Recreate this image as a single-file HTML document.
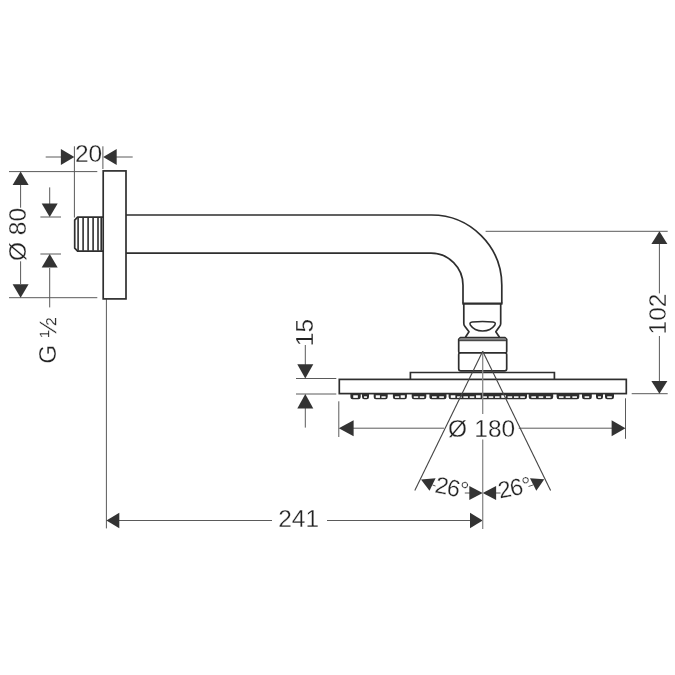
<!DOCTYPE html>
<html><head><meta charset="utf-8"><title>Drawing</title>
<style>
html,body{margin:0;padding:0;background:#fff;}
body{width:675px;height:675px;overflow:hidden;}
svg{display:block;font-family:"Liberation Sans",sans-serif;}
</style></head><body>
<svg width="675" height="675" viewBox="0 0 675 675">
<rect width="675" height="675" fill="#fff"/>
<defs><filter id="aa" filterUnits="userSpaceOnUse" x="0" y="0" width="675" height="675"><feOffset dx="0" dy="0"/></filter></defs>
<line x1="74.4" y1="146.3" x2="74.4" y2="217.5" stroke="#5a5a5a" stroke-width="1.0"/>
<line x1="102.9" y1="146.3" x2="102.9" y2="169" stroke="#5a5a5a" stroke-width="1.0"/>
<line x1="45.7" y1="157" x2="61" y2="157" stroke="#5a5a5a" stroke-width="1.0"/>
<line x1="116" y1="157" x2="132.7" y2="157" stroke="#5a5a5a" stroke-width="1.0"/>
<polygon points="74.40,157.00 60.90,165.00 60.90,149.00" fill="#333"/>
<polygon points="103.20,157.00 116.70,149.00 116.70,165.00" fill="#333"/>
<line x1="9" y1="171.6" x2="97.3" y2="171.6" stroke="#5a5a5a" stroke-width="1.0"/>
<line x1="9" y1="297.7" x2="97.3" y2="297.7" stroke="#5a5a5a" stroke-width="1.0"/>
<line x1="20.6" y1="185" x2="20.6" y2="207.7" stroke="#5a5a5a" stroke-width="1.0"/>
<line x1="20.6" y1="261.3" x2="20.6" y2="284" stroke="#5a5a5a" stroke-width="1.0"/>
<polygon points="20.60,171.60 28.60,185.10 12.60,185.10" fill="#333"/>
<polygon points="20.60,297.70 12.60,284.20 28.60,284.20" fill="#333"/>
<line x1="40.4" y1="217" x2="61" y2="217" stroke="#5a5a5a" stroke-width="1.0"/>
<line x1="40.4" y1="254" x2="61" y2="254" stroke="#5a5a5a" stroke-width="1.0"/>
<line x1="49.7" y1="187.4" x2="49.7" y2="204" stroke="#5a5a5a" stroke-width="1.0"/>
<line x1="49.7" y1="268" x2="49.7" y2="307.4" stroke="#5a5a5a" stroke-width="1.0"/>
<polygon points="49.70,217.00 41.70,203.50 57.70,203.50" fill="#333"/>
<polygon points="49.70,254.00 57.70,267.50 41.70,267.50" fill="#333"/>
<line x1="106.4" y1="299" x2="106.4" y2="528.4" stroke="#5a5a5a" stroke-width="1.0"/>
<line x1="119" y1="520.5" x2="272" y2="520.5" stroke="#5a5a5a" stroke-width="1.0"/>
<line x1="327" y1="520.5" x2="470" y2="520.5" stroke="#5a5a5a" stroke-width="1.0"/>
<polygon points="106.40,520.50 119.30,512.80 119.30,528.20" fill="#333"/>
<polygon points="482.70,520.50 470.00,528.20 470.00,512.80" fill="#333"/>
<line x1="296" y1="378.5" x2="336.3" y2="378.5" stroke="#5a5a5a" stroke-width="1.0"/>
<line x1="296" y1="394" x2="336.3" y2="394" stroke="#5a5a5a" stroke-width="1.0"/>
<line x1="305.3" y1="345" x2="305.3" y2="365" stroke="#5a5a5a" stroke-width="1.0"/>
<line x1="305.3" y1="408" x2="305.3" y2="427.6" stroke="#5a5a5a" stroke-width="1.0"/>
<polygon points="305.30,378.50 297.30,364.20 313.30,364.20" fill="#333"/>
<polygon points="305.30,394.00 313.30,408.60 297.30,408.60" fill="#333"/>
<line x1="485.6" y1="231.3" x2="667.7" y2="231.3" stroke="#5a5a5a" stroke-width="1.0"/>
<line x1="631.7" y1="393.7" x2="667.7" y2="393.7" stroke="#5a5a5a" stroke-width="1.0"/>
<line x1="659.4" y1="244" x2="659.4" y2="293.4" stroke="#5a5a5a" stroke-width="1.0"/>
<line x1="659.4" y1="336" x2="659.4" y2="381" stroke="#5a5a5a" stroke-width="1.0"/>
<polygon points="659.40,231.30 667.40,243.90 651.40,243.90" fill="#333"/>
<polygon points="659.40,393.70 651.40,381.10 667.40,381.10" fill="#333"/>
<line x1="338.8" y1="401.3" x2="338.8" y2="437" stroke="#5a5a5a" stroke-width="1.0"/>
<line x1="625.5" y1="398.3" x2="625.5" y2="438.8" stroke="#5a5a5a" stroke-width="1.0"/>
<line x1="353" y1="428.2" x2="444" y2="428.2" stroke="#5a5a5a" stroke-width="1.0"/>
<line x1="518.7" y1="428.2" x2="612" y2="428.2" stroke="#5a5a5a" stroke-width="1.0"/>
<polygon points="338.80,428.20 353.60,420.20 353.60,436.20" fill="#333"/>
<polygon points="625.50,428.20 611.60,436.20 611.60,420.20" fill="#333"/>
<line x1="464.8" y1="493" x2="470" y2="493" stroke="#5a5a5a" stroke-width="1.0"/>
<line x1="496" y1="493" x2="500.5" y2="493" stroke="#5a5a5a" stroke-width="1.0"/>
<polygon points="482.70,493.00 469.30,500.00 469.30,486.00" fill="#333"/>
<polygon points="482.70,493.00 496.10,486.00 496.10,500.00" fill="#333"/>
<polygon points="421,479.5 435.6,478.3 429.5,490.8" fill="#333"/>
<polygon points="544.3,479.3 530,478.3 536.3,490.8" fill="#333"/>
<path d="M432.5 485 L435.5 486" stroke="#5a5a5a" fill="none"/>
<path d="M533 485 L528.5 486.5" stroke="#5a5a5a" fill="none"/>
<path d="M103 217.2 H77.6 L74.7 220.2 V248.2 L77.6 251.1 H103" fill="#fff" stroke="#2e2e2e" stroke-width="1.7" stroke-linejoin="round"/>
<line x1="78.1" y1="217.6" x2="78.1" y2="250.8" stroke="#2e2e2e" stroke-width="1.6"/>
<line x1="83.1" y1="217.6" x2="83.1" y2="250.8" stroke="#2e2e2e" stroke-width="1.6"/>
<line x1="88.1" y1="217.6" x2="88.1" y2="250.8" stroke="#2e2e2e" stroke-width="1.6"/>
<line x1="93.1" y1="217.6" x2="93.1" y2="250.8" stroke="#2e2e2e" stroke-width="1.6"/>
<line x1="98.0" y1="217.6" x2="98.0" y2="250.8" stroke="#2e2e2e" stroke-width="1.6"/>
<line x1="101.2" y1="217.6" x2="101.2" y2="250.8" stroke="#2e2e2e" stroke-width="1.6"/>
<rect x="103.2" y="170.9" width="22.8" height="128" fill="#fff" stroke="#2e2e2e" stroke-width="1.7"/>
<path d="M126 215 H431.5 A70.3 70.3 0 0 1 501.8 285.3 V303.5 M126 253.2 H431 A32 32 0 0 1 463 285.2 V303.5" fill="none" stroke="#2e2e2e" stroke-width="1.7"/>
<line x1="462.3" y1="303.7" x2="502.5" y2="303.7" stroke="#2e2e2e" stroke-width="2.2"/>
<path d="M463.8 304 V323.5 Q463.8 325 464.8 326.2 L469 331.8 L465.4 337.2 M500.7 304 V323.5 Q500.7 325 499.7 326.2 L495.8 331.8 L499.5 337.2" fill="none" stroke="#2e2e2e" stroke-width="1.7" stroke-linejoin="round"/>
<path d="M472.3 321.9 Q482.5 320.9 493 321.9 Q496.2 322.5 494.9 325 Q490.8 330.9 482.6 331 Q474.3 330.9 470.3 325 Q469 322.5 472.3 321.9 Z" fill="#fff" stroke="#2e2e2e" stroke-width="1.5"/>
<path d="M460.4 337.6 H505 L506.7 339.4 V351.4 Q506.7 352.8 505.6 352.8 Q506.7 352.8 506.7 354.4 V368.8 Q506.7 370.9 504.6 370.9 H460.8 Q458.7 370.9 458.7 368.8 V354.4 Q458.7 352.8 459.8 352.8 Q458.7 352.8 458.7 351.4 V339.4 Z" fill="#fff" stroke="#2e2e2e" stroke-width="1.7" stroke-linejoin="round"/>
<rect x="459.6" y="338.3" width="46.2" height="2.2" fill="#7a7a7a"/>
<line x1="459" y1="340.7" x2="506.4" y2="340.7" stroke="#2e2e2e" stroke-width="1.0"/>
<line x1="459.2" y1="352.8" x2="506.2" y2="352.8" stroke="#2e2e2e" stroke-width="1.7"/>
<path d="M410.4 379.3 V372.5 H554.4 V379.3" fill="#fff" stroke="#2e2e2e" stroke-width="1.7"/>
<rect x="339.3" y="379.4" width="287" height="14.2" fill="#fff" stroke="#2e2e2e" stroke-width="1.7"/>
<path d="M350.4 393.6 V397 Q350.4 399.2 352.59999999999997 399.2 H358.5 Q360.7 399.2 360.7 397 V393.6 Z" fill="#2e2e2e"/>
<rect x="353.25" y="395.30" width="4.60" height="2.6" fill="#fff"/>
<path d="M362 393.6 V397 Q362 399.2 364.2 399.2 H366.8 Q369 399.2 369 397 V393.6 Z" fill="#2e2e2e"/>
<rect x="364.05" y="396.30" width="2.90" height="1.6" fill="#fff"/>
<path d="M373.7 393.6 V397 Q373.7 399.2 375.9 399.2 H385.5 Q387.7 399.2 387.7 397 V393.6 Z" fill="#2e2e2e"/>
<rect x="375.75" y="395.30" width="4.20" height="2.6" fill="#fff"/>
<rect x="381.45" y="396.30" width="4.20" height="1.6" fill="#fff"/>
<path d="M392.9 393.6 V397 Q392.9 399.2 395.09999999999997 399.2 H404.7 Q406.9 399.2 406.9 397 V393.6 Z" fill="#2e2e2e"/>
<rect x="394.95" y="396.30" width="4.20" height="1.6" fill="#fff"/>
<rect x="400.65" y="395.30" width="4.20" height="2.6" fill="#fff"/>
<path d="M411.7 393.6 V397 Q411.7 399.2 413.9 399.2 H424.1 Q426.3 399.2 426.3 397 V393.6 Z" fill="#2e2e2e"/>
<rect x="413.75" y="396.30" width="4.50" height="1.6" fill="#fff"/>
<rect x="419.75" y="396.30" width="4.50" height="1.6" fill="#fff"/>
<path d="M429.4 393.6 V397 Q429.4 399.2 431.59999999999997 399.2 H444.3 Q446.5 399.2 446.5 397 V393.6 Z" fill="#2e2e2e"/>
<rect x="432.02" y="396.30" width="4.60" height="1.6" fill="#fff"/>
<rect x="439.27" y="396.30" width="4.60" height="1.6" fill="#fff"/>
<path d="M448.6 393.6 V397 Q448.6 399.2 450.8 399.2 H524.8 Q527 399.2 527 397 V393.6 Z" fill="#2e2e2e"/>
<rect x="450.76" y="395.30" width="4.60" height="2.6" fill="#fff"/>
<rect x="457.08" y="396.30" width="4.60" height="1.6" fill="#fff"/>
<rect x="463.39" y="396.30" width="4.60" height="1.6" fill="#fff"/>
<rect x="469.71" y="396.30" width="4.60" height="1.6" fill="#fff"/>
<rect x="476.03" y="395.30" width="4.60" height="2.6" fill="#fff"/>
<rect x="482.34" y="396.30" width="4.60" height="1.6" fill="#fff"/>
<rect x="488.66" y="396.30" width="4.60" height="1.6" fill="#fff"/>
<rect x="494.98" y="396.30" width="4.60" height="1.6" fill="#fff"/>
<rect x="501.29" y="395.30" width="4.60" height="2.6" fill="#fff"/>
<rect x="507.61" y="396.30" width="4.60" height="1.6" fill="#fff"/>
<rect x="513.93" y="396.30" width="4.60" height="1.6" fill="#fff"/>
<rect x="520.24" y="396.30" width="4.60" height="1.6" fill="#fff"/>
<path d="M528.7 393.6 V397 Q528.7 399.2 530.9000000000001 399.2 H551.0 Q553.2 399.2 553.2 397 V393.6 Z" fill="#2e2e2e"/>
<rect x="531.35" y="396.30" width="4.60" height="1.6" fill="#fff"/>
<rect x="538.65" y="396.30" width="4.60" height="1.6" fill="#fff"/>
<rect x="545.95" y="396.30" width="4.60" height="1.6" fill="#fff"/>
<path d="M556.6 393.6 V397 Q556.6 399.2 558.8000000000001 399.2 H577.0999999999999 Q579.3 399.2 579.3 397 V393.6 Z" fill="#2e2e2e"/>
<rect x="558.95" y="396.30" width="4.60" height="1.6" fill="#fff"/>
<rect x="565.65" y="396.30" width="4.60" height="1.6" fill="#fff"/>
<rect x="572.35" y="396.30" width="4.60" height="1.6" fill="#fff"/>
<path d="M582 393.6 V397 Q582 399.2 584.2 399.2 H589.5999999999999 Q591.8 399.2 591.8 397 V393.6 Z" fill="#2e2e2e"/>
<rect x="584.60" y="396.30" width="4.60" height="1.6" fill="#fff"/>
<path d="M596 393.6 V397 Q596 399.2 598.2 399.2 H600.8 Q603 399.2 603 397 V393.6 Z" fill="#2e2e2e"/>
<rect x="598.05" y="396.30" width="2.90" height="1.6" fill="#fff"/>
<path d="M605 393.6 V397 Q605 399.2 607.2 399.2 H611.8 Q614 399.2 614 397 V393.6 Z" fill="#2e2e2e"/>
<rect x="607.20" y="396.30" width="4.60" height="1.6" fill="#fff"/>
<line x1="482.7" y1="351.5" x2="482.7" y2="414" stroke="#8a8a8a" stroke-width="1.3"/>
<line x1="482.7" y1="439.5" x2="482.7" y2="529" stroke="#8a8a8a" stroke-width="1.3"/>
<line x1="482.7" y1="351.3" x2="414.8" y2="490.52" stroke="#444" stroke-width="1.1"/>
<line x1="482.7" y1="351.3" x2="550.6" y2="490.52" stroke="#444" stroke-width="1.1"/>
<g filter="url(#aa)" fill="#222" stroke="#fff" stroke-width="0.3">
<text x="88.6" y="161.9" font-size="24.5" text-anchor="middle" >20</text>
<text x="26.4" y="234.5" font-size="24.5" text-anchor="middle"  transform="rotate(-90 26.4 234.5)">Ø 80</text>
<text x="55.7" y="340.5" font-size="24.5" text-anchor="middle"  transform="rotate(-90 55.7 340.5)">G ½</text>
<text x="298.6" y="527.2" font-size="24.5" text-anchor="middle" >241</text>
<text x="313.3" y="332.5" font-size="24.5" text-anchor="middle"  transform="rotate(-90 313.3 332.5)">15</text>
<text x="666" y="314" font-size="24.5" text-anchor="middle"  transform="rotate(-90 666 314)">102</text>
<text x="448" y="437" font-size="24.5" text-anchor="start" >Ø</text>
<text x="515.2" y="437" font-size="24.5" text-anchor="end" >180</text>
<text x="451.2" y="489.4" font-size="23.5" text-anchor="middle"  dominant-baseline="middle" letter-spacing="-0.9" transform="rotate(11 451.2 489.4)">26°</text>
<text x="514.6" y="489.4" font-size="23.5" text-anchor="middle"  dominant-baseline="middle" letter-spacing="-0.9" transform="rotate(-11 514.6 489.4)">26°</text>
</g>
</svg>
</body></html>
